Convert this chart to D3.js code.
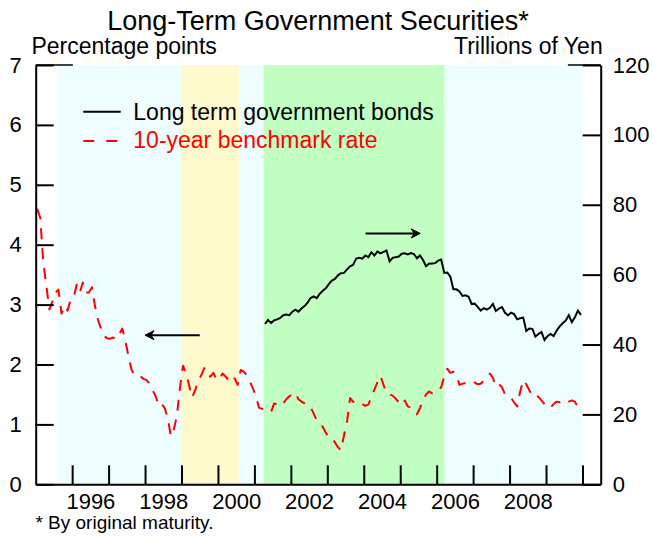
<!DOCTYPE html>
<html><head><meta charset="utf-8">
<script src="https://cdn.jsdelivr.net/npm/d3@7"></script>
<style>
body{margin:0;background:#fff;}
svg{display:block;font-family:"Liberation Sans",Arial,Helvetica,sans-serif;}
</style></head>
<body>
<svg id="c" width="653" height="537"></svg>
<script>
// ---------- data ----------
const title = "Long-Term Government Securities*";
const leftTitle = "Percentage points";
const rightTitle = "Trillions of Yen";
const footnote = "* By original maturity.";
const seriesNames = ["Long term government bonds", "10-year benchmark rate"];

// 10-year benchmark rate (%), monthly from Jan 1995
const rateStart = [1995, 1];
const rateValues = [
  4.60,4.45,3.70,3.32,2.92,3.05,3.20,3.25,2.85,2.98,2.90,3.08, // 1995
  3.12,3.33,3.20,3.37,3.20,3.20,3.29,2.98,2.75,2.60,2.48,2.44, // 1996
  2.43,2.45,2.42,2.50,2.60,2.40,2.15,1.92,1.82,1.80,1.80,1.76, // 1997
  1.74,1.68,1.57,1.47,1.31,1.34,1.27,1.10,0.80,0.92,1.15,1.62, // 1998
  1.98,1.85,1.65,1.45,1.57,1.74,1.82,1.94,1.82,1.80,1.86,1.75, // 1999
  1.75,1.85,1.80,1.74,1.70,1.77,1.66,1.91,1.88,1.82,1.72,1.60, // 2000
  1.47,1.28,1.26,1.25,1.23,1.21,1.35,1.33,1.30,1.35,1.42,1.47, // 2001
  1.50,1.53,1.42,1.38,1.35,1.30,1.29,1.18,1.07,1.02,0.96,0.86, // 2002
  0.79,0.78,0.70,0.62,0.57,0.82,1.05,1.44,1.38,1.34,1.35,1.34, // 2003
  1.31,1.33,1.45,1.58,1.70,1.81,1.66,1.52,1.50,1.48,1.43,1.37, // 2004
  1.32,1.40,1.30,1.28,1.25,1.17,1.27,1.40,1.50,1.55,1.52,1.52, // 2005
  1.57,1.62,1.80,1.93,1.86,1.88,1.82,1.66,1.68,1.69,1.67,1.67, // 2006
  1.70,1.67,1.68,1.73,1.78,1.85,1.78,1.63,1.67,1.62,1.50,1.46, // 2007
  1.44,1.37,1.30,1.55,1.74,1.67,1.57,1.48,1.50,1.46,1.40,1.34, // 2008
  1.28,1.28,1.34,1.38,1.37,1.40,1.37,1.38,1.40,1.38,1.29       // 2009
];

// Long term government bonds (trillions of yen), monthly from Apr 2001
const bondStart = [2001, 4];
const bondValues = [
  45.9,47.0,46.2,46.9,47.2,47.6,48.4,48.6,48.4,                // 2001
  49.4,50.0,49.4,50.3,51.0,52.0,53.3,53.8,53.3,54.5,55.4,56.1, // 2002
  57.3,58.3,58.8,59.8,60.4,60.5,61.5,62.4,62.8,64.6,64.8,64.6, // 2003
  65.5,65.0,66.4,65.5,66.6,66.1,66.5,66.9,63.8,64.8,65.0,65.2, // 2004
  66.0,66.1,65.8,66.2,65.9,64.7,65.5,64.2,62.4,63.1,63.2,63.3, // 2005
  64.0,64.3,60.5,60.6,59.4,55.8,55.8,55.2,53.9,54.1,53.7,51.6, // 2006
  51.7,50.8,49.7,50.4,50.0,50.5,51.6,49.6,50.3,50.7,49.1,48.4, // 2007
  49.1,48.7,47.2,47.5,47.7,43.9,44.6,44.5,42.3,43.0,43.6,41.3, // 2008
  42.4,43.0,42.4,44.0,45.2,46.1,46.9,48.4,46.4,47.8,49.7,48.5  // 2009
];

// policy periods (decimal years)
const periodStarts = [1995.58, 1999.0, 2000.58, 2001.25, 2006.22];
const periodEnds   = [1999.0, 2000.58, 2001.25, 2006.22, 2010.0];
const periodKinds  = ["easing", "zero", "easing", "quant", "easing"];

const leftTicks = [0,1,2,3,4,5,6,7];
const rightTicks = [0,20,40,60,80,100,120];
const yearTicks = [1996,1997,1998,1999,2000,2001,2002,2003,2004,2005,2006,2007,2008,2009,2010];
const yearLabels = [1996,1998,2000,2002,2004,2006,2008];

// arrows
const arrowLeft = {from: 1999.5, to: 1998.0, value: 2.49};    // points to left axis
const arrowRight = {from: 2004.05, to: 2005.55, value: 71.8}; // points to right axis

// ---------- chart ----------
const svg = d3.select("#c");
const X0 = 35.7, X1 = 600.7, Y0 = 484.3, Y1 = 65;
const x = d3.scaleLinear().domain([1995, 2010.5]).range([X0, X1]);
const yL = d3.scaleLinear().domain([0, 7]).range([Y0, Y1]);
const yR = d3.scaleLinear().domain([0, 120]).range([Y0, Y1]);
const fills = {easing: "#eefeff", zero: "#fffacd", quant: "#c2ffc2"};

const monthPos = (start, i) => {
  const m = start[1] - 1 + i;
  return start[0] + Math.floor(m / 12) + ((m % 12) + 0.5) / 12;
};

// shading
svg.append("g").selectAll("rect").data(periodStarts).join("rect")
  .attr("x", (d) => x(d))
  .attr("width", (d, i) => x(periodEnds[i]) - x(d))
  .attr("y", Y1).attr("height", Y0 - Y1)
  .attr("fill", (d, i) => fills[periodKinds[i]]);

// top frame fragments
svg.append("line").attr("x1", X0).attr("x2", x(1996.02)).attr("y1", Y1).attr("y2", Y1)
  .attr("stroke", "#000").attr("stroke-width", 1.5);
svg.append("line").attr("x1", x(2009.6)).attr("x2", X1).attr("y1", Y1).attr("y2", Y1)
  .attr("stroke", "#000").attr("stroke-width", 1.5);

// lines
const rateLine = d3.line().x((d, i) => x(monthPos(rateStart, i))).y((d) => yL(d));
const bondLine = d3.line().x((d, i) => x(monthPos(bondStart, i))).y((d) => yR(d));

svg.append("path").datum(rateValues).attr("d", rateLine)
  .attr("fill", "none").attr("stroke", "#ff0000").attr("stroke-width", 2)
  .attr("stroke-dasharray", "11,9").attr("stroke-linejoin", "round");
svg.append("path").datum(bondValues).attr("d", bondLine)
  .attr("fill", "none").attr("stroke", "#000").attr("stroke-width", 2)
  .attr("stroke-linejoin", "miter");

// axes
const fontSize = 22;
const axL = svg.append("g").attr("transform", `translate(${X0},0)`)
  .call(d3.axisLeft(yL).tickValues(leftTicks).tickSize(-18).tickSizeOuter(0).tickPadding(14).tickFormat(d3.format("d")));
const axR = svg.append("g").attr("transform", `translate(${X1},0)`)
  .call(d3.axisRight(yR).tickValues(rightTicks).tickSize(-18).tickSizeOuter(0).tickPadding(12).tickFormat(d3.format("d")));
const axB = svg.append("g").attr("transform", `translate(0,${Y0})`)
  .call(d3.axisBottom(x).tickValues(yearTicks).tickSize(-19).tickSizeOuter(0).tickFormat(""));
const axBL = svg.append("g").attr("transform", `translate(0,${Y0})`)
  .call(d3.axisBottom(x).tickValues(yearLabels.map(v => v + 0.5)).tickSize(0).tickPadding(9)
    .tickFormat(d => String(Math.floor(d))));
axBL.select(".domain").remove();
[axL, axR, axB, axBL].forEach(g => {
  g.selectAll(".domain").attr("stroke", "#000").attr("stroke-width", 2);
  g.selectAll(".tick line").attr("stroke", "#000").attr("stroke-width", 2);
  g.selectAll("text").attr("font-size", fontSize).attr("fill", "#000")
    .attr("font-family", '"Liberation Sans",Arial,sans-serif');
});

// arrows
function arrow(a, scale) {
  const yv = scale(a.value), xa = x(a.from), xb = x(a.to);
  const dir = xb > xa ? 1 : -1;
  svg.append("line").attr("x1", xa).attr("x2", xb - dir * 4).attr("y1", yv).attr("y2", yv)
    .attr("stroke", "#000").attr("stroke-width", 2);
  svg.append("path")
    .attr("d", `M${xb},${yv} L${xb - dir * 9},${yv - 4.5} L${xb - dir * 6},${yv} L${xb - dir * 9},${yv + 4.5} Z`)
    .attr("fill", "#000").attr("stroke", "#000").attr("stroke-width", 1);
}
arrow(arrowLeft, yL);
arrow(arrowRight, yR);

// legend
svg.append("line").attr("x1", 83.3).attr("x2", 120.7).attr("y1", 111.7).attr("y2", 111.7)
  .attr("stroke", "#000").attr("stroke-width", 2);
svg.append("text").attr("x", 133.3).attr("y", 119.5).attr("font-size", 23).text(seriesNames[0]);
svg.append("line").attr("x1", 83.3).attr("x2", 117.3).attr("y1", 141).attr("y2", 141)
  .attr("stroke", "#ff0000").attr("stroke-width", 2).attr("stroke-dasharray", "11,12");
svg.append("text").attr("x", 133.3).attr("y", 147.5).attr("font-size", 23).attr("fill", "#ff0000").text(seriesNames[1]);

// titles
svg.append("text").attr("x", 318).attr("y", 29.5).attr("text-anchor", "middle").attr("font-size", 27).text(title);
svg.append("text").attr("x", 31.4).attr("y", 53.5).attr("font-size", 23).text(leftTitle);
svg.append("text").attr("x", 602.7).attr("y", 53.5).attr("text-anchor", "end").attr("font-size", 23).text(rightTitle);
svg.append("text").attr("x", 35.4).attr("y", 529).attr("font-size", 19).text(footnote);
</script>
</body></html>
